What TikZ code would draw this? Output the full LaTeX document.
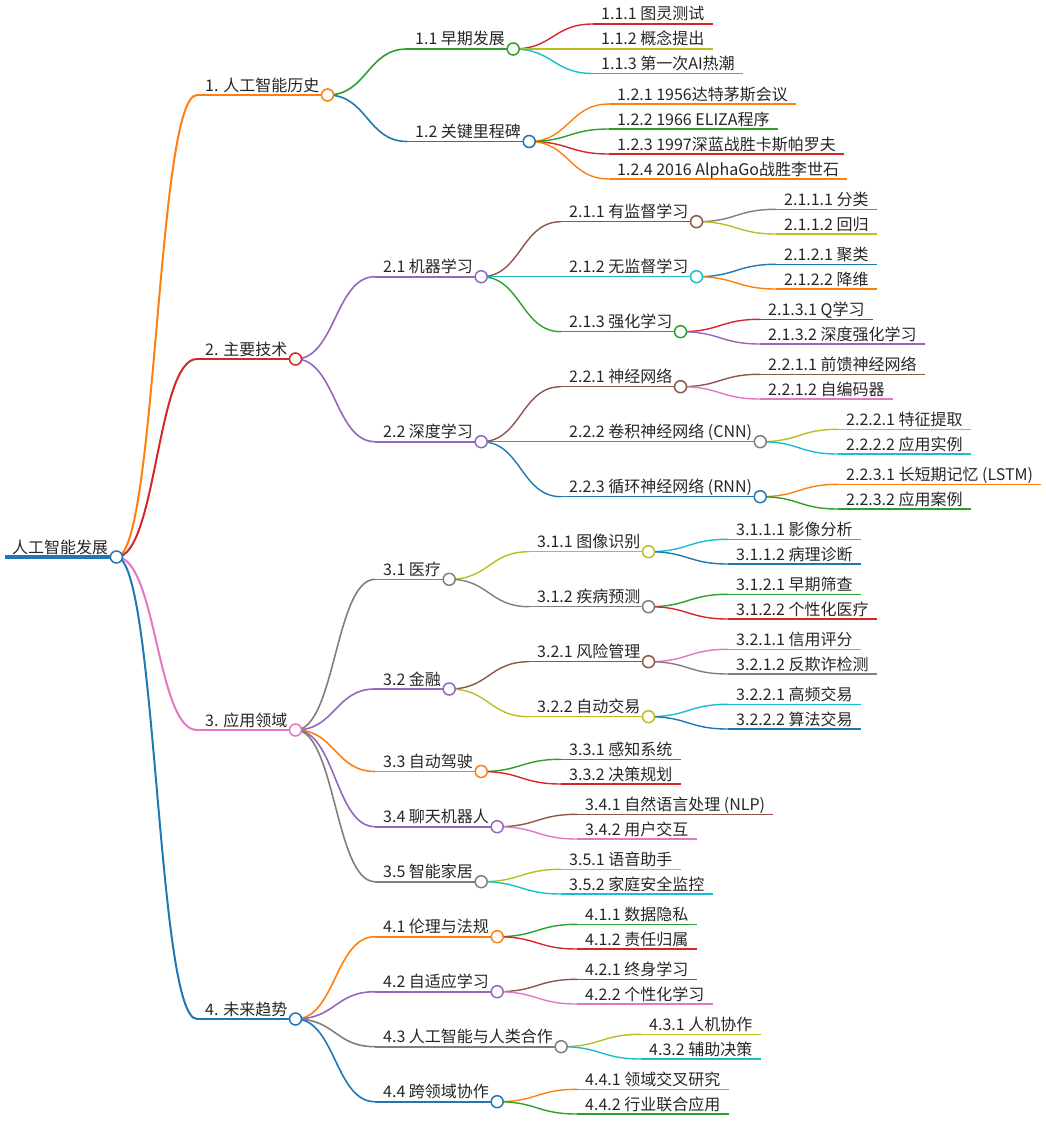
\documentclass[tikz,border=0pt]{standalone}
\usepackage{fontspec}
\setmainfont{Noto Sans CJK SC}
\usetikzlibrary{calc}

\definecolor{cblue}{HTML}{1F77B4}
\definecolor{corange}{HTML}{FF7F0E}
\definecolor{cgreen}{HTML}{2CA02C}
\definecolor{cred}{HTML}{D62728}
\definecolor{cpurple}{HTML}{9467BD}
\definecolor{cbrown}{HTML}{8C564B}
\definecolor{cpink}{HTML}{E377C2}
\definecolor{cgray}{HTML}{7F7F7F}
\definecolor{colive}{HTML}{BCBD22}
\definecolor{ccyan}{HTML}{17BECF}

% #1 name, #2 parent, #3 x of text, #4 y of line, #5 colour, #6 width, #7 text
\newcommand{\topic}[7]{%
  \node[topictext] (#1) at (#3,#4-4) {#7};
  \coordinate (#1-l) at (#3-8,#4);
  \coordinate (#1-r) at ($(#1.base east)+(8,4)$);
  \draw[#5, line width=#6] let \p1=(#2-r), \p2=(#1-l) in
    (\p1) .. controls ({(\x1+\x2)/2},\y1) and ({(\x1+\x2)/2},\y2) .. (\p2);
  \draw[#5, line width=#6] (#1-l) -- (#1-r);
}

\begin{document}
\begin{tikzpicture}[x=1pt, y=-1pt,
    topictext/.style={anchor=base west, inner sep=0pt, text=black!85,
      font=\fontsize{16}{18}\selectfont}]
    \useasboundingbox (0,0) rectangle (1045,1148);

    % root
    \node[topictext] (r) at (12,553) {人工智能发展};
    \coordinate (r-l) at (5,557);
    \coordinate (r-r) at ($(r.base east)+(8,4)$);
    \draw[cblue, line width=3.5pt] (r-l) -- (r-r);

    % 1
    \topic{n1}{r}{205}{95}{corange}{2pt}{1. 人工智能历史}
    \topic{n11}{n1}{415}{49}{cgreen}{1.6pt}{1.1 早期发展}
    \topic{n111}{n11}{601}{24}{cred}{1.4pt}{1.1.1 图灵测试}
    \topic{n112}{n11}{601}{49}{colive}{1.4pt}{1.1.2 概念提出}
    \topic{n113}{n11}{601}{73.5}{ccyan}{1.4pt}{1.1.3 第一次AI热潮}
    \topic{n12}{n1}{415}{141.5}{cblue}{1.6pt}{1.2 关键里程碑}
    \topic{n121}{n12}{617}{104}{corange}{1.4pt}{1.2.1 1956达特茅斯会议}
    \topic{n122}{n12}{617}{129}{cgreen}{1.4pt}{1.2.2 1966 ELIZA程序}
    \topic{n123}{n12}{617}{154}{cred}{1.4pt}{1.2.3 1997深蓝战胜卡斯帕罗夫}
    \topic{n124}{n12}{617}{179}{corange}{1.4pt}{1.2.4 2016 AlphaGo战胜李世石}

    % 2
    \topic{n2}{r}{205}{359}{cred}{2pt}{2. 主要技术}
    \topic{n21}{n2}{383}{276.7}{cpurple}{1.6pt}{2.1 机器学习}
    \topic{n211}{n21}{569}{221.7}{cbrown}{1.4pt}{2.1.1 有监督学习}
    \topic{n2111}{n211}{784}{209.3}{cgray}{1.4pt}{2.1.1.1 分类}
    \topic{n2112}{n211}{784}{234}{colive}{1.4pt}{2.1.1.2 回归}
    \topic{n212}{n21}{569}{276.7}{ccyan}{1.4pt}{2.1.2 无监督学习}
    \topic{n2121}{n212}{784}{264.3}{cblue}{1.4pt}{2.1.2.1 聚类}
    \topic{n2122}{n212}{784}{289}{corange}{1.4pt}{2.1.2.2 降维}
    \topic{n213}{n21}{569}{331.7}{cgreen}{1.4pt}{2.1.3 强化学习}
    \topic{n2131}{n213}{768}{319.3}{cred}{1.4pt}{2.1.3.1 Q学习}
    \topic{n2132}{n213}{768}{344}{cpurple}{1.4pt}{2.1.3.2 深度强化学习}
    \topic{n22}{n2}{383}{441.7}{cpurple}{1.6pt}{2.2 深度学习}
    \topic{n221}{n22}{569}{386.7}{cbrown}{1.4pt}{2.2.1 神经网络}
    \topic{n2211}{n221}{768}{374.3}{cbrown}{1.4pt}{2.2.1.1 前馈神经网络}
    \topic{n2212}{n221}{768}{399}{cpink}{1.4pt}{2.2.1.2 自编码器}
    \topic{n222}{n22}{569}{441.7}{cgray}{1.4pt}{2.2.2 卷积神经网络 (CNN)}
    \topic{n2221}{n222}{846}{429.3}{colive}{1.4pt}{2.2.2.1 特征提取}
    \topic{n2222}{n222}{846}{454}{ccyan}{1.4pt}{2.2.2.2 应用实例}
    \topic{n223}{n22}{569}{496.7}{cblue}{1.4pt}{2.2.3 循环神经网络 (RNN)}
    \topic{n2231}{n223}{846}{484.3}{corange}{1.4pt}{2.2.3.1 长短期记忆 (LSTM)}
    \topic{n2232}{n223}{846}{509}{cgreen}{1.4pt}{2.2.3.2 应用案例}

    % 3
    \topic{n3}{r}{205}{730}{cpink}{2pt}{3. 应用领域}
    \topic{n31}{n3}{383}{579.3}{cgray}{1.6pt}{3.1 医疗}
    \topic{n311}{n31}{537}{551.7}{colive}{1.4pt}{3.1.1 图像识别}
    \topic{n3111}{n311}{736}{539.3}{ccyan}{1.4pt}{3.1.1.1 影像分析}
    \topic{n3112}{n311}{736}{564}{cblue}{1.4pt}{3.1.1.2 病理诊断}
    \topic{n312}{n31}{537}{606.7}{cgray}{1.4pt}{3.1.2 疾病预测}
    \topic{n3121}{n312}{736}{594.3}{cgreen}{1.4pt}{3.1.2.1 早期筛查}
    \topic{n3122}{n312}{736}{619}{cred}{1.4pt}{3.1.2.2 个性化医疗}
    \topic{n32}{n3}{383}{689}{cpurple}{1.6pt}{3.2 金融}
    \topic{n321}{n32}{537}{661.7}{cbrown}{1.4pt}{3.2.1 风险管理}
    \topic{n3211}{n321}{736}{649.3}{cpink}{1.4pt}{3.2.1.1 信用评分}
    \topic{n3212}{n321}{736}{674}{cgray}{1.4pt}{3.2.1.2 反欺诈检测}
    \topic{n322}{n32}{537}{716.7}{colive}{1.4pt}{3.2.2 自动交易}
    \topic{n3221}{n322}{736}{704.3}{ccyan}{1.4pt}{3.2.2.1 高频交易}
    \topic{n3222}{n322}{736}{729}{cblue}{1.4pt}{3.2.2.2 算法交易}
    \topic{n33}{n3}{383}{771.5}{corange}{1.6pt}{3.3 自动驾驶}
    \topic{n331}{n33}{569}{759.3}{cgreen}{1.4pt}{3.3.1 感知系统}
    \topic{n332}{n33}{569}{784}{cred}{1.4pt}{3.3.2 决策规划}
    \topic{n34}{n3}{383}{826.7}{cpurple}{1.6pt}{3.4 聊天机器人}
    \topic{n341}{n34}{585}{814.3}{cbrown}{1.4pt}{3.4.1 自然语言处理 (NLP)}
    \topic{n342}{n34}{585}{839}{cpink}{1.4pt}{3.4.2 用户交互}
    \topic{n35}{n3}{383}{881.7}{cgray}{1.6pt}{3.5 智能家居}
    \topic{n351}{n35}{569}{869.3}{colive}{1.4pt}{3.5.1 语音助手}
    \topic{n352}{n35}{569}{894}{ccyan}{1.4pt}{3.5.2 家庭安全监控}

    % 4
    \topic{n4}{r}{205}{1019}{cblue}{2pt}{4. 未来趋势}
    \topic{n41}{n4}{383}{936.7}{corange}{1.6pt}{4.1 伦理与法规}
    \topic{n411}{n41}{585}{924.3}{cgreen}{1.4pt}{4.1.1 数据隐私}
    \topic{n412}{n41}{585}{949}{cred}{1.4pt}{4.1.2 责任归属}
    \topic{n42}{n4}{383}{991.7}{cpurple}{1.6pt}{4.2 自适应学习}
    \topic{n421}{n42}{585}{979.3}{cbrown}{1.4pt}{4.2.1 终身学习}
    \topic{n422}{n42}{585}{1004}{cpink}{1.4pt}{4.2.2 个性化学习}
    \topic{n43}{n4}{383}{1046.7}{cgray}{1.6pt}{4.3 人工智能与人类合作}
    \topic{n431}{n43}{649}{1034.3}{colive}{1.4pt}{4.3.1 人机协作}
    \topic{n432}{n43}{649}{1059}{ccyan}{1.4pt}{4.3.2 辅助决策}
    \topic{n44}{n4}{383}{1101.7}{cblue}{1.6pt}{4.4 跨领域协作}
    \topic{n441}{n44}{585}{1089.3}{corange}{1.4pt}{4.4.1 领域交叉研究}
    \topic{n442}{n44}{585}{1114}{cgreen}{1.4pt}{4.4.2 行业联合应用}

    % folding circles
    \foreach \n/\c in {r/cblue, n1/corange, n11/cgreen, n12/cblue,
        n2/cred, n21/cpurple, n211/cbrown, n212/ccyan, n213/cgreen,
        n22/cpurple, n221/cbrown, n222/cgray, n223/cblue,
        n3/cpink, n31/cgray, n311/colive, n312/cgray, n32/cpurple,
        n321/cbrown, n322/colive, n33/corange, n34/cpurple, n35/cgray,
        n4/cblue, n41/corange, n42/cpurple, n43/cgray, n44/cblue}
      \draw[\c, fill=white, line width=1.5pt] (\n-r) circle (6pt);
\end{tikzpicture}
\end{document}
